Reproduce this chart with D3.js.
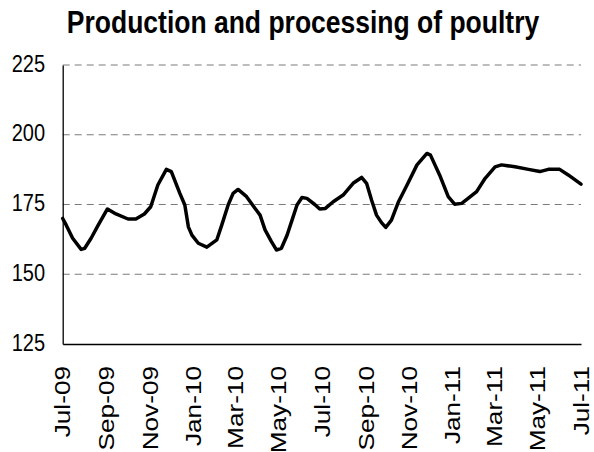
<!DOCTYPE html>
<html>
<head>
<meta charset="utf-8">
<script src="https://cdn.jsdelivr.net/npm/d3@7"></script>
<style>
  html, body { margin: 0; padding: 0; background: #fff; }
  svg { display: block; }
  text { font-family: "Liberation Sans", Arial, sans-serif; fill: #000; }
</style>
</head>
<body>
<svg id="chart" width="594" height="452"></svg>
<script>
const title = "Production and processing of poultry";

const dates = [
  "2009-07-01","2009-07-06","2009-07-15","2009-07-27","2009-08-01","2009-08-10","2009-08-20",
  "2009-09-02","2009-09-14","2009-10-01","2009-10-12","2009-10-24","2009-11-02","2009-11-12",
  "2009-11-24","2009-12-01","2009-12-13","2009-12-20","2009-12-25","2009-12-30","2010-01-08",
  "2010-01-20","2010-02-03","2010-02-10","2010-02-19","2010-02-26","2010-03-05","2010-03-17",
  "2010-03-29","2010-04-05","2010-04-12","2010-04-21","2010-04-28","2010-05-05","2010-05-13",
  "2010-05-20","2010-05-27","2010-06-03","2010-06-10","2010-06-21","2010-06-28","2010-07-06",
  "2010-07-17","2010-07-31","2010-08-14","2010-08-26","2010-09-02","2010-09-09","2010-09-16",
  "2010-09-23","2010-09-29","2010-10-07","2010-10-17","2010-10-29","2010-11-12","2010-11-26",
  "2010-12-01","2010-12-14","2010-12-26","2011-01-04","2011-01-14","2011-01-23","2011-02-04",
  "2011-02-16","2011-03-02","2011-03-11","2011-03-30","2011-04-18","2011-05-04","2011-05-16",
  "2011-06-01","2011-06-13","2011-07-01"
];
const values = [
  170.0,167.6,162.9,158.9,159.3,162.9,167.6,
  173.4,171.6,169.8,169.8,171.6,174.2,182.0,
  187.6,186.8,179.0,174.8,167.0,164.0,161.1,
  159.7,162.3,167.6,174.8,179.0,180.4,177.8,
  173.6,171.2,165.9,161.7,158.7,159.3,164.0,
  169.4,174.8,177.5,177.2,175.0,173.4,173.6,
  176.0,178.4,182.6,184.7,182.6,176.6,171.2,
  168.5,166.8,169.4,176.0,182.0,189.2,193.3,
  192.7,185.5,177.8,175.1,175.4,177.2,179.6,
  184.4,188.5,189.2,188.5,187.6,186.8,187.6,
  187.6,185.6,182.3
];

const yTicks = [125, 150, 175, 200, 225];
const gridValues = [150, 175, 200, 225];
const xTickLabels = ["Jul-09","Sep-09","Nov-09","Jan-10","Mar-10","May-10","Jul-10",
                     "Sep-10","Nov-10","Jan-11","Mar-11","May-11","Jul-11"];

const parseDay = d3.timeParse("%Y-%m-%d");
const parseTick = d3.timeParse("%b-%y");
const data = dates.map((d, i) => ({ date: parseDay(d), value: values[i] }));

const svg = d3.select("#chart");
const plotLeft = 62.7, plotRight = 581, plotTop = 65, plotBottom = 344;

const x = d3.scaleTime()
  .domain([parseTick("Jul-09"), parseTick("Jul-11")])
  .range([plotLeft, plotRight]);
const y = d3.scaleLinear().domain([125, 225]).range([plotBottom, plotTop]);

// title (image is slightly stretched vertically)
svg.append("text")
  .attr("transform", "translate(303,33) scale(1,1.18)")
  .attr("text-anchor", "middle")
  .style("font-weight", "bold")
  .style("font-size", "26.5px")
  .text(title);

// gridlines
svg.append("g").selectAll("line").data(gridValues).join("line")
  .attr("x1", plotLeft).attr("x2", plotRight)
  .attr("y1", d => y(d)).attr("y2", d => y(d))
  .attr("stroke", "#7a7a7a").attr("stroke-width", 1)
  .attr("stroke-dasharray", "7,5");

// y axis
const yAxis = svg.append("g")
  .attr("transform", `translate(${plotLeft},0)`)
  .call(d3.axisLeft(y).tickValues(yTicks).tickSize(0).tickPadding(0));
yAxis.select(".domain").attr("stroke", "#000").attr("stroke-width", 1.3);
yAxis.selectAll(".tick text").remove();
svg.append("g").selectAll("text").data(yTicks).join("text")
  .attr("transform", d => `translate(45,${y(d) + 6.5}) scale(1,1.22)`)
  .attr("text-anchor", "end")
  .style("font-size", "20px")
  .text(d => d);

// x axis
const xTickDates = xTickLabels.map(parseTick);
const xAxis = svg.append("g")
  .attr("transform", `translate(0,${plotBottom})`)
  .call(d3.axisBottom(x).tickValues(xTickDates).tickSize(0).tickFormat(""));
xAxis.select(".domain").attr("stroke", "#000").attr("stroke-width", 1.3);
svg.append("g").selectAll("text").data(xTickLabels).join("text")
  .attr("transform", d => `translate(${x(parseTick(d))},366) scale(1,1.19) rotate(-90)`)
  .attr("text-anchor", "end")
  .attr("dy", "0.35em")
  .style("font-size", "22px")
  .text(d => d);

// series line
const line = d3.line().x(d => x(d.date)).y(d => y(d.value));
svg.append("path")
  .datum(data)
  .attr("d", line)
  .attr("fill", "none")
  .attr("stroke", "#000")
  .attr("stroke-width", 3.5)
  .attr("stroke-linejoin", "round")
  .attr("stroke-linecap", "round");
</script>
</body>
</html>
